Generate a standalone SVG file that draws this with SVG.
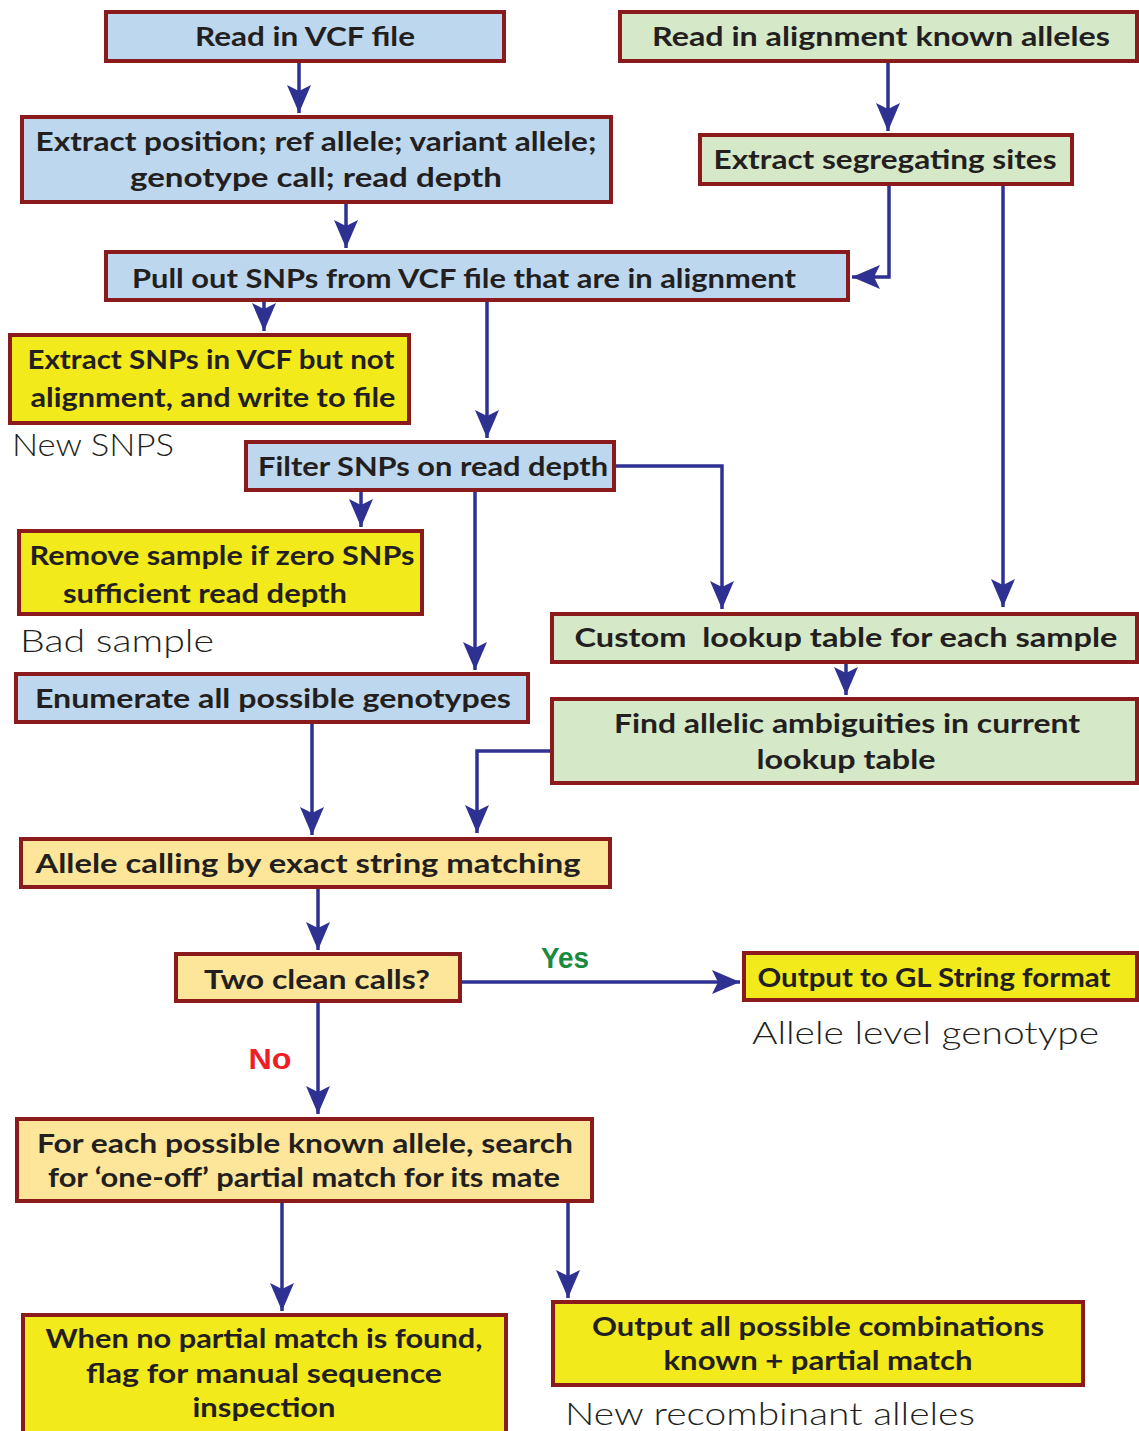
<svg xmlns="http://www.w3.org/2000/svg" width="1139" height="1431" viewBox="0 0 1139 1431">
<style>
.box{stroke:#8a1a1c;stroke-width:4}
.blue{fill:#bdd7ee}
.green{fill:#d5e8c8}
.ly{fill:#fde699}
.yl{fill:#f2ea1a}
.t{font-family:Lato,"Liberation Sans",sans-serif;font-weight:bold;font-size:27px;fill:#231f20}
.note{font-family:Lato,"Liberation Sans",sans-serif;font-weight:300;font-size:31px;fill:#231f20}
.lab{font-family:"Liberation Sans",sans-serif;font-weight:bold;font-size:29px}
.c{fill:none;stroke:#2e3192;stroke-width:3.5;marker-end:url(#ah)}
</style>
<defs>
<marker id="ah" markerUnits="userSpaceOnUse" markerWidth="30" markerHeight="26" refX="28" refY="12" orient="auto" viewBox="0 0 30 26">
<path d="M0,0 L28,12 L0,24 L6,12 z" fill="#2e3192"/>
</marker>
</defs>
<rect width="1139" height="1431" fill="#ffffff"/>

<g id="connectors">
<path class="c" d="M299,61 V113"/>
<path class="c" d="M888,61 V131"/>
<path class="c" d="M346,204 V248"/>
<path class="c" d="M889,184 V277 H852"/>
<path class="c" d="M1003,184 V607"/>
<path class="c" d="M264,300 V331"/>
<path class="c" d="M487,300 V438"/>
<path class="c" d="M361,490 V527"/>
<path class="c" d="M475,490 V670"/>
<path class="c" d="M614,466 H722 V609"/>
<path class="c" d="M846,662 V695"/>
<path class="c" d="M312,722 V835"/>
<path class="c" d="M552,751 H477 V833"/>
<path class="c" d="M318,887 V950"/>
<path class="c" d="M460,982 H740"/>
<path class="c" d="M318,1001 V1114"/>
<path class="c" d="M282,1201 V1311"/>
<path class="c" d="M568,1201 V1298"/>
</g>

<g id="n-read-vcf">
<rect class="box blue" x="106" y="12" width="398" height="49"/>
<text class="t" x="305" y="46" text-anchor="middle" textLength="220" lengthAdjust="spacingAndGlyphs">Read in VCF file</text>
</g>
<g id="n-read-alignment">
<rect class="box green" x="620" y="12" width="517" height="49"/>
<text class="t" x="881" y="46" text-anchor="middle" textLength="458" lengthAdjust="spacingAndGlyphs">Read in alignment known alleles</text>
</g>
<g id="n-extract-position">
<rect class="box blue" x="22" y="117" width="589" height="85"/>
<text class="t" x="316" y="151" text-anchor="middle" textLength="561" lengthAdjust="spacingAndGlyphs">Extract position; ref allele; variant allele;</text>
<text class="t" x="316" y="187" text-anchor="middle" textLength="372" lengthAdjust="spacingAndGlyphs">genotype call; read depth</text>
</g>
<g id="n-extract-seg">
<rect class="box green" x="700" y="135" width="372" height="49"/>
<text class="t" x="885" y="169" text-anchor="middle" textLength="343" lengthAdjust="spacingAndGlyphs">Extract segregating sites</text>
</g>
<g id="n-pull-out">
<rect class="box blue" x="106" y="252" width="742" height="48"/>
<text class="t" x="464" y="288" text-anchor="middle" textLength="664" lengthAdjust="spacingAndGlyphs">Pull out SNPs from VCF file that are in alignment</text>
</g>
<g id="n-extract-snps">
<rect class="box yl" x="10" y="335" width="399" height="88"/>
<text class="t" x="211" y="369" text-anchor="middle" textLength="367" lengthAdjust="spacingAndGlyphs">Extract SNPs in VCF but not</text>
<text class="t" x="213" y="407" text-anchor="middle" textLength="365" lengthAdjust="spacingAndGlyphs">alignment, and write to file</text>
</g>
<text class="note" x="12" y="456" textLength="162" lengthAdjust="spacingAndGlyphs">New SNPS</text>
<g id="n-filter">
<rect class="box blue" x="246" y="442" width="368" height="48"/>
<text class="t" x="433" y="476" text-anchor="middle" textLength="350" lengthAdjust="spacingAndGlyphs">Filter SNPs on read depth</text>
</g>
<g id="n-remove">
<rect class="box yl" x="19" y="531" width="403" height="83"/>
<text class="t" x="222" y="565" text-anchor="middle" textLength="385" lengthAdjust="spacingAndGlyphs">Remove sample if zero SNPs</text>
<text class="t" x="205" y="603" text-anchor="middle" textLength="284" lengthAdjust="spacingAndGlyphs">sufficient read depth</text>
</g>
<text class="note" x="20" y="652" textLength="194" lengthAdjust="spacingAndGlyphs">Bad sample</text>
<g id="n-custom">
<rect class="box green" x="552" y="614" width="585" height="48"/>
<text class="t" x="846" y="647" text-anchor="middle" textLength="543" lengthAdjust="spacingAndGlyphs" xml:space="preserve">Custom  lookup table for each sample</text>
</g>
<g id="n-enumerate">
<rect class="box blue" x="16" y="674" width="512" height="48"/>
<text class="t" x="273" y="708" text-anchor="middle" textLength="476" lengthAdjust="spacingAndGlyphs">Enumerate all possible genotypes</text>
</g>
<g id="n-find">
<rect class="box green" x="552" y="699" width="585" height="84"/>
<text class="t" x="847" y="733" text-anchor="middle" textLength="466" lengthAdjust="spacingAndGlyphs">Find allelic ambiguities in current</text>
<text class="t" x="846" y="769" text-anchor="middle" textLength="179" lengthAdjust="spacingAndGlyphs">lookup table</text>
</g>
<g id="n-allele-calling">
<rect class="box ly" x="21" y="839" width="589" height="48"/>
<text class="t" x="308" y="873" text-anchor="middle" textLength="545" lengthAdjust="spacingAndGlyphs">Allele calling by exact string matching</text>
</g>
<g id="n-two-clean">
<rect class="box ly" x="176" y="954" width="284" height="47"/>
<text class="t" x="317" y="989" text-anchor="middle" textLength="226" lengthAdjust="spacingAndGlyphs">Two clean calls?</text>
</g>
<text class="lab" x="565" y="968" text-anchor="middle" fill="#1a8a3e" textLength="48" lengthAdjust="spacingAndGlyphs">Yes</text>
<text class="lab" x="270" y="1069" text-anchor="middle" fill="#ee2024" textLength="43" lengthAdjust="spacingAndGlyphs">No</text>
<g id="n-output-gl">
<rect class="box yl" x="744" y="953" width="393" height="47"/>
<text class="t" x="934" y="987" text-anchor="middle" textLength="353" lengthAdjust="spacingAndGlyphs">Output to GL String format</text>
</g>
<text class="note" x="752" y="1044" textLength="347" lengthAdjust="spacingAndGlyphs">Allele level genotype</text>
<g id="n-for-each">
<rect class="box ly" x="17" y="1119" width="575" height="82"/>
<text class="t" x="305" y="1153" text-anchor="middle" textLength="536" lengthAdjust="spacingAndGlyphs">For each possible known allele, search</text>
<text class="t" x="304" y="1187" text-anchor="middle" textLength="512" lengthAdjust="spacingAndGlyphs">for ‘one-off’ partial match for its mate</text>
</g>
<g id="n-when-no">
<rect class="box yl" x="23" y="1315" width="483" height="122"/>
<text class="t" x="264" y="1348" text-anchor="middle" textLength="437" lengthAdjust="spacingAndGlyphs">When no partial match is found,</text>
<text class="t" x="264" y="1383" text-anchor="middle" textLength="356" lengthAdjust="spacingAndGlyphs">flag for manual sequence</text>
<text class="t" x="264" y="1417" text-anchor="middle" textLength="143" lengthAdjust="spacingAndGlyphs">inspection</text>
</g>
<g id="n-output-all">
<rect class="box yl" x="553" y="1302" width="530" height="83"/>
<text class="t" x="818" y="1336" text-anchor="middle" textLength="452" lengthAdjust="spacingAndGlyphs">Output all possible combinations</text>
<text class="t" x="818" y="1370" text-anchor="middle" textLength="309" lengthAdjust="spacingAndGlyphs">known + partial match</text>
</g>
<text class="note" x="565" y="1425" textLength="410" lengthAdjust="spacingAndGlyphs">New recombinant alleles</text>
</svg>
